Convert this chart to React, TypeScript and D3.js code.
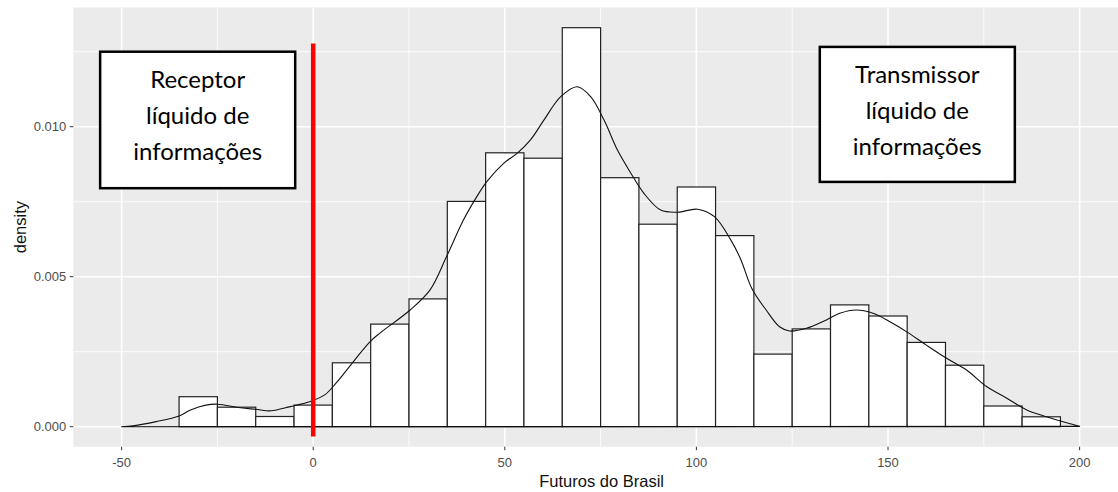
import React from 'react';
import * as d3 from 'd3';

// histogram bins (lower edge, width 10) and their density heights
const binLower = [-35, -25, -15, -5, 5, 15, 25, 35, 45, 55, 65, 75, 85, 95, 105, 115, 125, 135, 145, 155, 165, 175, 185];
const binDensity = [0.00100, 0.00065, 0.00034, 0.00072, 0.00213, 0.00342, 0.00426, 0.00751, 0.00913, 0.00895, 0.01330, 0.00830,
  0.00675, 0.00799, 0.00637, 0.00242, 0.00326, 0.00406, 0.00369, 0.00281, 0.00205, 0.00069, 0.00033];
const binWidth = 10;

// kernel density curve
const curveX = [-50, -47, -41, -35, -32, -28, -25, -19, -15, -11, -6, -1, 3, 6, 10.5, 14.8, 17.4, 25.3, 30.5, 34.8, 39.2, 42.7,
  45.3, 49.7, 53.2, 56.7, 60.2, 64.6, 68.9, 72.4, 75.9, 79.4, 82.9, 86.3, 90.7, 95.1, 100.3, 104.7, 109, 111.5, 114.5, 118.2,
  121.7, 124.3, 128.7, 133.9, 137.4, 141.7, 146.1, 150.5, 154.8, 160, 165.3, 170.5, 175.8, 181, 186.2, 191.4, 196.6, 200];
const curveY = [0, 0.00003, 0.00017, 0.00036, 0.00056, 0.00072, 0.00075, 0.00063, 0.00058, 0.00053, 0.00067, 0.00083, 0.00106,
  0.00146, 0.00217, 0.00283, 0.00312, 0.00389, 0.00456, 0.00567, 0.00689, 0.00767, 0.00817, 0.00878, 0.00911, 0.00956, 0.01022,
  0.01100, 0.01133, 0.01100, 0.01022, 0.00922, 0.00845, 0.00778, 0.00722, 0.00715, 0.00725, 0.00700, 0.00622, 0.00560, 0.00460,
  0.00389, 0.00333, 0.00319, 0.00328, 0.00356, 0.00378, 0.00389, 0.00378, 0.00350, 0.00317, 0.00272, 0.00228, 0.00189, 0.00133,
  0.00095, 0.00056, 0.00033, 0.00013, 0.00001];

const xTicks = [-50, 0, 50, 100, 150, 200];
const xMinor = [-25, 25, 75, 125, 175];
const yTicks = [0, 0.005, 0.01];
const yTickLabels = ['0.000', '0.005', '0.010'];
const yMinor = [0.0025, 0.0075, 0.0125];

const notes = [
  { lines: ['Receptor', 'líquido de', 'informações'], x0: -55.6, x1: -4.7, y0: 0.0125, y1: 0.00795 },
  { lines: ['Transmissor', 'líquido de', 'informações'], x0: 132.2, x1: 183.1, y0: 0.01266, y1: 0.00816 },
];

const W = 1118;
const H = 492;
const panel = { left: 73.3, right: 1130, top: 7.5, bottom: 446.7 };

export default function App() {
  const x = d3.scaleLinear().domain([-50, 200]).range([121.6, 1079.6]);
  const y = d3.scaleLinear().domain([0, 0.01]).range([426.7, 126.7]);

  const pts: [number, number][] = curveX.map((d, i) => [d, curveY[i]]);
  const densLine = d3.line<[number, number]>()
    .x(d => x(d[0]))
    .y(d => y(d[1]))
    .curve(d3.curveCatmullRom.alpha(0.5));
  const densPath = densLine(pts) + `L${x(curveX[0])},${y(0)}Z`;

  const axisFont = '"Liberation Sans", Arial, sans-serif';

  return (
    <div style={{ position: 'absolute', left: 0, top: 0 }}>
      <svg width={W} height={H} style={{ display: 'block', background: '#fff' }}>
        <defs>
          <clipPath id="pclip">
            <rect x={panel.left} y={panel.top} width={panel.right - panel.left} height={panel.bottom - panel.top} />
          </clipPath>
        </defs>
        <rect x={panel.left} y={panel.top} width={panel.right - panel.left} height={panel.bottom - panel.top} fill="#ebebeb" />
        <g clipPath="url(#pclip)">
          {yMinor.map(t => (
            <line key={'ym' + t} x1={panel.left} x2={panel.right} y1={y(t)} y2={y(t)} stroke="#fff" strokeWidth={0.8} />
          ))}
          {xMinor.map(t => (
            <line key={'xm' + t} x1={x(t)} x2={x(t)} y1={panel.top} y2={panel.bottom} stroke="#fff" strokeWidth={0.8} />
          ))}
          {yTicks.map(t => (
            <line key={'yg' + t} x1={panel.left} x2={panel.right} y1={y(t)} y2={y(t)} stroke="#fff" strokeWidth={1.6} />
          ))}
          {xTicks.map(t => (
            <line key={'xg' + t} x1={x(t)} x2={x(t)} y1={panel.top} y2={panel.bottom} stroke="#fff" strokeWidth={1.6} />
          ))}

          {binLower.map((b, i) => (
            <rect
              key={'bar' + b}
              x={x(b)}
              y={y(binDensity[i])}
              width={x(b + binWidth) - x(b)}
              height={y(0) - y(binDensity[i])}
              fill="#fff"
              stroke="#222"
              strokeWidth={1.2}
            />
          ))}

          <path d={densPath} fill="none" stroke="#111" strokeWidth={1.1} strokeLinejoin="round" />

          <line x1={x(0)} x2={x(0)} y1={y(0.01277)} y2={y(-0.00033)} stroke="#ff0000" strokeWidth={4.5} />

          {notes.map((n, i) => {
            const bx = x(n.x0);
            const bw = x(n.x1) - x(n.x0);
            const by = y(n.y0);
            const bh = y(n.y1) - y(n.y0);
            const cx = bx + bw / 2;
            return (
              <g key={'note' + i}>
                <rect x={bx} y={by} width={bw} height={bh} fill="#fff" stroke="#000" strokeWidth={2.5} />
                {n.lines.map((l, j) => (
                  <text
                    key={j}
                    x={cx}
                    y={by + 36 + j * 36}
                    textAnchor="middle"
                    fontFamily="Lato, 'Open Sans', sans-serif"
                    fontSize={24}
                    fill="#000"
                  >
                    {l}
                  </text>
                ))}
              </g>
            );
          })}
        </g>

        {/* y axis */}
        {yTicks.map((t, i) => (
          <g key={'yt' + t}>
            <line x1={panel.left - 3.5} x2={panel.left} y1={y(t)} y2={y(t)} stroke="#333" strokeWidth={1} />
            <text x={panel.left - 7} y={y(t) + 4.5} textAnchor="end" fontFamily={axisFont} fontSize={13} fill="#4d4d4d">
              {yTickLabels[i]}
            </text>
          </g>
        ))}
        {/* x axis */}
        {xTicks.map(t => (
          <g key={'xt' + t}>
            <line x1={x(t)} x2={x(t)} y1={panel.bottom} y2={panel.bottom + 3.5} stroke="#333" strokeWidth={1} />
            <text x={x(t)} y={panel.bottom + 20} textAnchor="middle" fontFamily={axisFont} fontSize={13} fill="#4d4d4d">
              {t}
            </text>
          </g>
        ))}

        <text
          x={(panel.left + panel.right) / 2}
          y={487}
          textAnchor="middle"
          fontFamily={axisFont}
          fontSize={16.5}
          fill="#111"
        >
          Futuros do Brasil
        </text>
        <text
          transform={`translate(26,${(panel.top + panel.bottom) / 2}) rotate(-90)`}
          textAnchor="middle"
          fontFamily={axisFont}
          fontSize={16.5}
          fill="#111"
        >
          density
        </text>
      </svg>
    </div>
  );
}
